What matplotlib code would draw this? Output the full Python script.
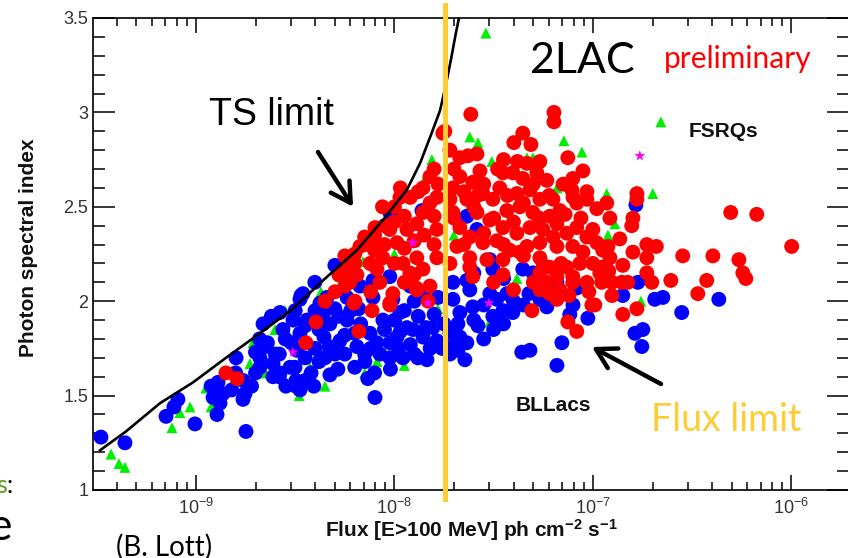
import numpy as np
import matplotlib
matplotlib.use("Agg")
import matplotlib.pyplot as plt
from matplotlib.ticker import LogLocator, MultipleLocator, LogFormatterMathtext, NullFormatter, FuncFormatter

plt.rcParams['font.family'] = ['Liberation Sans', 'DejaVu Sans']
plt.rcParams['mathtext.fontset'] = 'custom'
plt.rcParams['mathtext.rm'] = 'Liberation Sans'
plt.rcParams['mathtext.default'] = 'regular'

# ---------------- data (log10 flux, photon index) ----------------
blue_logF = [-9.479, -9.358, -9.151, -9.111, -9.091, -9.005, -8.894, -8.748,
             -8.924, -8.889, -8.864, -8.879, -8.914, -8.798, -8.763, -8.753, -8.763, -8.662,
             -8.678, -8.647, -8.612, -8.577, -8.526, -8.496, -8.547, -8.476, -8.612, -8.678,
             -8.476, -8.511, -8.562, -8.64, -8.58, -8.577, -8.471,
             -8.098, -8.134, -8.285, -8.325, -8.406, -8.496, -8.501, -8.350, -8.149, -8.073,
             -8.023, -7.957, -7.882, -7.836, -7.806, -7.786, -7.856, -7.907, -7.987, -8.023,
             -8.088, -8.123, -8.058, -7.972, -7.937, -8.275, -8.325, -8.239, -8.189, -8.355,
             -8.476, -8.441, -8.491, -8.20, -8.15, -8.25, -8.40, -8.38, -7.80, -7.76, -7.75,
             -8.300, -8.401, -8.461, -8.023, -7.972, -7.861, -8.174, -8.108, -8.023, -8.008,
             -8.239, -8.108, -8.340, -8.375, -8.30, -8.22, -7.90, -7.85, -7.95,
             -7.519, -7.504, -7.705, -7.635, -7.353, -7.302, -7.181, -7.050, -7.584, -7.635,
             -7.645, -7.635, -7.705, -7.720, -7.670, -7.579, -7.504, -7.453, -7.403, -7.484,
             -7.433, -7.519, -7.605, -7.670, -7.705, -7.620, -7.358, -7.317, -7.181, -7.156,
             -7.322, -7.116, -7.025, -7.232, -7.267, -7.081,
             -6.783, -6.773, -6.849, -6.688, -6.647, -6.552, -6.365, -6.788, -6.748, -6.753,
             -8.80, -8.72, -8.70, -8.60, -8.55, -8.45, -8.42, -8.38, -8.30, -8.28,
             -8.20, -8.18, -8.10, -8.05, -8.00, -7.98, -7.92, -7.88, -7.82, -7.78,
             -7.92, -8.40, -8.50, -8.62, -8.68,
             -7.68, -7.60, -7.55, -7.50, -7.45, -7.55, -7.40, -7.35, -7.60, -7.45,
             -7.20, -7.10, -7.72, -7.68,
             -8.70, -8.52, -8.45, -8.33, -8.25, -8.17, -8.12, -8.02, -7.97, -7.90,
             -7.84, -8.36, -8.45, -8.58, -8.82]
blue_idx = [1.28, 1.25, 1.39, 1.44, 1.48, 1.35, 1.40, 1.31,
            1.55, 1.57, 1.51, 1.46, 1.49, 1.70, 1.58, 1.51, 1.48, 1.88,
            1.70, 1.76, 1.67, 1.62, 1.65, 1.58, 1.55, 1.53, 1.60, 1.65,
            2.01, 1.90, 1.85, 1.78, 1.72, 1.94, 2.03,
            1.49, 1.59, 1.64, 1.61, 1.55, 1.55, 1.65, 1.70, 1.68, 1.72,
            1.70, 1.70, 1.70, 1.69, 1.86, 1.79, 1.81, 1.85, 1.81, 1.78,
            1.78, 1.83, 1.90, 1.94, 1.86, 1.79, 1.88, 1.90, 1.76, 1.81,
            1.83, 1.90, 1.74, 1.83, 1.72, 1.72, 1.75, 1.68, 1.93, 1.75, 1.88,
            2.19, 2.10, 2.04, 2.47, 2.45, 2.48, 2.08, 2.02, 2.13, 2.01,
            2.02, 2.11, 2.02, 1.99, 1.96, 1.95, 2.00, 2.05, 1.95,
            2.22, 2.17, 2.10, 2.11, 2.17, 2.15, 2.10, 2.08, 2.38, 2.45,
            1.69, 1.78, 1.76, 1.83, 1.81, 1.87, 1.92, 1.95, 1.94, 2.01,
            2.04, 2.04, 1.97, 1.94, 2.01, 2.06, 1.73, 1.74, 1.66, 1.78,
            2.04, 1.93, 1.91, 1.97, 2.01, 2.07,
            2.51, 2.10, 2.03, 2.01, 2.02, 1.94, 2.01, 1.83, 1.85, 1.76,
            1.62, 1.55, 1.62, 1.72, 1.80, 1.70, 1.62, 1.85, 1.72, 1.92,
            1.65, 1.96, 1.62, 1.85, 1.90, 1.75, 1.77, 1.92, 1.75, 2.02,
            2.08, 1.95, 1.95, 1.92, 1.80,
            1.88, 1.90, 1.98, 1.85, 1.88, 1.80, 2.00, 1.98, 2.15, 2.12,
            2.05, 1.98, 1.72, 1.74,
            1.73, 1.78, 1.58, 1.76, 1.82, 1.88, 1.75, 1.64, 1.84, 1.72,
            1.86, 1.93, 1.87, 1.60, 1.53]

red_logF = [-8.849, -8.793,
            -8.204, -8.113, -8.023, -8.395, -8.179, -8.446, -7.89,
            -7.972, -8.098, -8.174, -8.234, -8.189, -8.224, -8.199, -8.088, -8.073, -8.008,
            -8.023, -8.023, -7.987, -7.937, -7.887, -7.856, -7.821, -7.786, -7.856, -7.821,
            -7.887, -7.957, -7.922, -7.856, -7.786, -7.786, -7.887, -7.821, -8.123, -8.058,
            -7.756, -8.15, -8.05, -8.00, -8.10, -7.95, -8.06, -8.25, -8.28,
            -7.615, -7.746, -7.196, -7.196, -7.353, -7.398, -7.312, -7.126, -7.267, -7.332,
            -7.670, -7.630, -7.584, -7.569, -7.050, -7.101, -7.106, -7.030, -7.081, -6.980,
            -7.030,
            -7.453, -7.403, -7.353, -7.282, -7.232, -7.469, -7.383, -7.317, -7.267, -7.201,
            -7.166, -7.217, -7.302, -7.368, -7.433, -7.504, -7.554, -7.605, -7.670, -7.705,
            -7.720, -7.635, -7.584, -7.519, -7.453, -7.383, -7.317, -7.252, -7.181, -7.131,
            -7.081, -7.030, -6.980, -7.101, -7.181, -7.267, -7.332, -7.418, -7.484, -7.554,
            -7.620, -7.670, -7.705, -7.685, -7.620, -7.534, -7.453, -7.368, -7.267, -7.217,
            -7.131, -7.065, -7.000, -6.965, -7.605, -7.453, -7.267, -7.181, -7.101, -7.030,
            -7.307, -7.126, -7.081, -7.005, -7.267, -7.217, -7.181, -7.166, -7.232, -7.101,
            -6.305, -6.174, -5.998, -6.778, -6.778, -6.798, -6.804, -6.914, -6.930,
            -6.864, -6.924, -6.914, -6.955, -6.728, -6.728, -6.728, -6.703, -6.798, -6.849,
            -6.547, -6.395, -6.264, -6.244, -6.229, -6.607, -6.426, -6.471, -6.904, -6.955,
            -6.824, -6.854, -6.904, -6.990, -6.778, -6.849, -6.68,
            -8.30, -8.20, -8.12, -8.10, -8.05, -8.00, -7.95, -7.92, -7.90, -7.85,
            -7.80, -7.78, -7.80, -7.95, -8.00, -7.90, -8.12, -8.25, -8.35, -7.83,
            -7.88,
            -7.70, -7.65, -7.60, -7.55, -7.50, -7.48, -7.43, -7.40, -7.35, -7.30,
            -7.27, -7.22, -7.20, -7.15, -7.14, -7.10, -7.06, -7.00, -6.95, -7.05,
            -7.16, -7.25, -7.35, -7.45, -7.55, -7.65, -7.72, -7.62, -7.50, -7.40,
            -7.30, -7.12, -7.02, -6.92, -7.70, -7.58, -7.38, -7.45,
            -8.14, -8.20, -7.97, -7.72, -7.80]
red_idx = [1.62, 1.59,
           1.99, 1.95, 1.98, 1.89, 1.84, 1.78, 2.07,
           2.55, 2.39, 2.29, 2.17, 2.14, 2.10, 2.00, 2.17, 2.10, 2.04,
           1.99, 2.38, 2.31, 2.38, 2.41, 2.47, 2.52, 2.55, 2.60, 2.66,
           2.23, 2.20, 2.15, 2.17, 2.38, 2.23, 2.06, 2.08, 2.20, 2.23,
           2.89, 2.34, 2.30, 2.42, 2.27, 2.28, 2.50, 2.24, 2.14,
           2.99, 2.90, 3.00, 2.95, 2.89, 2.84, 2.83, 2.76, 2.74, 2.73,
           2.76, 2.77, 2.78, 2.69, 2.69, 2.65, 2.59, 2.58, 2.52, 2.49,
           2.54,
           2.68, 2.68, 2.65, 2.68, 2.64, 2.60, 2.57, 2.59, 2.54, 2.54,
           2.48, 2.45, 2.47, 2.50, 2.48, 2.54, 2.57, 2.63, 2.66, 2.60,
           2.54, 2.54, 2.47, 2.43, 2.39, 2.36, 2.39, 2.38, 2.41, 2.36,
           2.39, 2.34, 2.31, 2.29, 2.29, 2.31, 2.29, 2.27, 2.32, 2.31,
           2.34, 2.39, 2.47, 2.29, 2.23, 2.22, 2.22, 2.26, 2.23, 2.18,
           2.18, 2.20, 2.20, 2.15, 2.13, 2.14, 2.15, 2.13, 2.13, 2.10,
           1.95, 1.89, 1.84, 1.98, 2.06, 2.04, 2.01, 2.06, 2.10, 2.10,
           2.47, 2.46, 2.29, 2.57, 2.54, 2.44, 2.40, 2.44, 2.52,
           2.33, 2.29, 2.23, 2.18, 2.30, 2.23, 2.15, 2.10, 2.26, 2.19,
           2.24, 2.24, 2.22, 2.15, 2.12, 2.11, 2.11, 2.04, 2.10, 2.10,
           2.10, 2.10, 2.03, 1.98, 1.96, 1.93, 2.29,
           2.05, 2.20, 2.32, 2.35, 2.40, 2.50, 2.45, 2.55, 2.32, 2.35,
           2.45, 2.62, 2.30, 2.10, 2.20, 2.14, 2.05, 2.08, 2.00, 2.00,
           2.58,
           2.70, 2.58, 2.50, 2.62, 2.44, 2.70, 2.56, 2.42, 2.52, 2.62,
           2.44, 2.56, 2.34, 2.62, 2.46, 2.55, 2.44, 2.38, 2.27, 2.26,
           2.20, 2.19, 2.24, 2.30, 2.36, 2.30, 2.20, 2.18, 2.10, 2.06,
           2.10, 2.03, 2.05, 2.16, 2.44, 2.56, 2.74, 2.75,
           2.30, 2.25, 2.60, 2.80, 2.70]

green_logF = [-9.428, -9.388, -9.358, -9.121, -9.081, -9.030, -8.924, -8.950, -8.814, -8.728,
              -8.713, -8.602, -8.426, -8.088, -7.972, -7.781, -7.811, -7.846, -7.897, -8.159,
              -8.275, -7.620, -7.579, -7.509, -7.146, -7.055, -7.181, -7.332, -7.302, -7.383,
              -7.519, -6.657, -6.698, -6.930, -6.889, -6.924, -6.758, -7.539,
              -8.55, -8.37, -8.00, -7.70, -7.45, -8.65, -8.48, -8.35, -8.15, -7.95]
green_idx = [1.19, 1.14, 1.12, 1.33, 1.41, 1.44, 1.44, 1.54, 1.57, 1.67,
             1.78, 1.85, 1.65, 1.68, 1.89, 1.96, 2.75, 2.65, 2.58, 2.21,
             2.13, 2.87, 2.84, 2.74, 2.85, 2.79, 2.60, 2.76, 2.76, 2.12,
             1.89, 2.95, 2.57, 2.57, 2.41, 2.35, 2.00, 3.42,
             1.95, 2.05, 2.25, 2.35, 2.15, 1.62, 1.50, 1.55, 1.62, 1.66]

magenta_logF = [-8.511, -7.831, -7.907, -7.524, -6.763]
magenta_idx = [1.73, 1.99, 2.31, 1.99, 2.77]

ts_logF = [-9.484, -9.353, -9.181, -9.015, -8.849, -8.678, -8.511, -8.360, -8.189,
           -8.058, -7.937, -7.871, -7.816, -7.770, -7.740, -7.715, -7.692, -7.669]
ts_idx = [1.21, 1.31, 1.46, 1.57, 1.70, 1.83, 1.96, 2.11, 2.27,
          2.43, 2.59, 2.73, 2.88, 3.01, 3.15, 3.28, 3.41, 3.53]

flux_limit_logF = -7.746

# ---------------- figure ----------------
W, H = 848, 558
fig = plt.figure(figsize=(W / 100, H / 100), dpi=100)
ax = fig.add_axes([93 / W, (H - 490) / H, (849 - 93) / W, 472 / H])
ax.set_xscale('log')
ax.set_xlim(10 ** -9.519, 10 ** -5.709)
ax.set_ylim(1.0, 3.5)

ax.scatter(10 ** np.array(green_logF), green_idx, s=62, marker='^', c='#00ee00',
           edgecolors='none', zorder=2)
ax.scatter(10 ** np.array(blue_logF), blue_idx, s=115, marker='o', c='#0000ff',
           edgecolors='none', zorder=3)
ax.scatter(10 ** np.array(red_logF), red_idx, s=115, marker='o', c='#ff0000',
           edgecolors='none', zorder=4)
ax.scatter(10 ** np.array(magenta_logF), magenta_idx, s=70, marker='*', c='#ff00ff',
           edgecolors='none', zorder=5)

ax.plot(10 ** np.array(ts_logF), ts_idx, color='black', lw=1.9, zorder=6)
ax.axvline(10 ** flux_limit_logF, ymin=-0.019, ymax=1.028, color='#ffcc33', lw=3.6,
           clip_on=False, zorder=7)

# ticks
ax.xaxis.set_major_locator(LogLocator(base=10, numticks=10))
ax.xaxis.set_minor_locator(LogLocator(base=10, subs=np.arange(2, 10), numticks=20))
ax.xaxis.set_major_formatter(LogFormatterMathtext())
ax.xaxis.set_minor_formatter(NullFormatter())
ax.yaxis.set_major_locator(MultipleLocator(0.5))
ax.yaxis.set_minor_locator(MultipleLocator(0.1))
ax.yaxis.set_major_formatter(FuncFormatter(lambda v, p: ('%g' % v)))
ax.tick_params(axis='both', which='both', direction='in', top=True, right=True,
               colors='black', labelcolor='#333333', labelsize=13, width=1.1)
ax.tick_params(axis='x', which='major', length=11, pad=6)
ax.tick_params(axis='x', which='minor', length=5.5)
ax.tick_params(axis='y', which='major', length=16, pad=3.5)
ax.tick_params(axis='y', which='minor', length=8.5)
for sp in ax.spines.values():
    sp.set_linewidth(1.2)


def fx(px):
    return px / W


def fy(py):
    return 1 - py / H


fig.text(fx(471), fy(537), r'Flux [E>100 MeV] ph cm$^{-2}$ s$^{-1}$', ha='center',
         va='baseline', fontsize=15, fontweight='bold', color='#111111')
fig.text(fx(29), fy(248), 'Photon spectral index', rotation=90, ha='center', va='center',
         fontsize=15, fontweight='bold', color='#111111')

fig.text(fx(271), fy(125), 'TS limit', ha='center', va='baseline', fontsize=27, color='black')
fig.text(fx(582), fy(73), '2LAC', ha='center', va='baseline', fontsize=31, color='black',
         family=['Lato', 'DejaVu Sans'])
fig.text(fx(738), fy(68), 'preliminary', ha='center', va='baseline', fontsize=21.5,
         color='#ff0000', family=['Lato', 'DejaVu Sans'])
fig.text(fx(723), fy(137), 'FSRQs', ha='center', va='baseline', fontsize=15,
         fontweight='bold', color='#111111')
fig.text(fx(553), fy(411), 'BLLacs', ha='center', va='baseline', fontsize=15,
         fontweight='bold', color='#111111')
fig.text(fx(726), fy(431), 'Flux limit', ha='center', va='baseline', fontsize=27,
         color='#ffcc33', family=['Lato', 'DejaVu Sans'])
fig.text(fx(164), fy(556), '(B. Lott)', ha='center', va='baseline', fontsize=20,
         color='black', family=['Lato', 'DejaVu Sans'])
fig.text(fx(7), fy(493), 's', ha='right', va='baseline', fontsize=18, color='#5e9e1e',
         family=['Lato', 'DejaVu Sans'])
fig.text(fx(13), fy(493), ':', ha='right', va='baseline', fontsize=18, color='black',
         family=['Lato', 'DejaVu Sans'])
fig.text(fx(12), fy(540), 'e', ha='right', va='baseline', fontsize=32, color='black',
         family=['Lato', 'DejaVu Sans'])

# arrows (axes fraction)
arrow_kw = dict(arrowstyle='->,head_length=0.7,head_width=0.4', lw=3.2, color='black',
                mutation_scale=20, shrinkA=0, shrinkB=0)
ax.annotate('', xy=(0.344, 0.600), xytext=(0.2976, 0.716), xycoords='axes fraction',
            textcoords='axes fraction', arrowprops=arrow_kw, zorder=8)
ax.annotate('', xy=(0.660, 0.303), xytext=(0.7513, 0.2246), xycoords='axes fraction',
            textcoords='axes fraction', arrowprops=arrow_kw, zorder=8)

fig.savefig('out.png', dpi=100)
